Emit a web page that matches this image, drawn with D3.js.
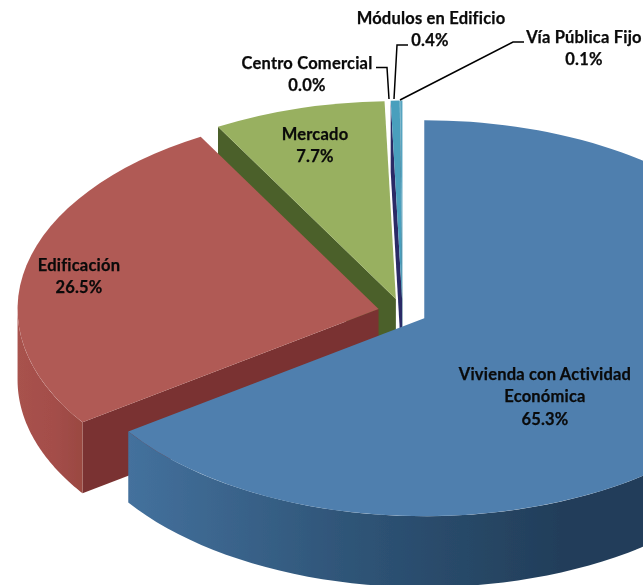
<!DOCTYPE html>
<html><head><meta charset="utf-8">
<script src="https://cdn.jsdelivr.net/npm/d3@7/dist/d3.min.js"></script>
<style>html,body{margin:0;padding:0;background:#fff}svg{display:block}
text{font-family:Lato,"Open Sans",sans-serif;font-weight:700;font-size:16.5px;letter-spacing:.2px;fill:#0a0a0a;stroke:#0a0a0a;stroke-width:.25px;text-anchor:middle}</style>
</head><body><svg id="c" width="643" height="585"></svg>
<script>
const categories = ["Vivienda con Actividad Económica","Edificación","Mercado","Centro Comercial","Módulos en Edificio","Vía Pública Fijo"];
const shares = [65.3,26.5,7.7,0.0,0.4,0.1];
const topColors = ["#4f7fae","#b05a55","#98b060","#5b4a8a","#4a9fbd","#56a4c0"];
const cutColors = ["#2b4a6b","#7a3330","#4c6129","#2c2c66","#2c2c66","#3a6f85"];
const sideStops = [["#44719d","#2f5578","#223e5a"],["#a8524d","#a44e4a","#98473f"],["#88a052","#7d944b","#6f8542"],["#444","#444","#444"],["#2f7f98","#2f7f98","#2f7f98"],["#2f7f98","#2f7f98","#2f7f98"]];

const W=643,H=585, cx=402.5, cy=312, rx=361, ry=198, depth=71, explode=0.068, tilt=ry/rx;
const svg=d3.select("#c");
const defs=svg.append("defs");
defs.append("filter").attr("id","soft").append("feGaussianBlur").attr("stdDeviation",0.55);

const arcs=d3.pie().sort(null).value(d=>d).startAngle(0).endAngle(2*Math.PI)(shares);
arcs.forEach((a,i)=>{a.i=i;a.mid=(a.startAngle+a.endAngle)/2;
  a.ox=cx+explode*rx*Math.sin(a.mid); a.oy=cy-explode*ry*Math.cos(a.mid);});
const pt=(a,t,z=0)=>[a.ox+rx*Math.sin(t), a.oy-ry*Math.cos(t)+z];
const arcGen=d3.arc().innerRadius(0).outerRadius(rx);
const line=d3.line();

sideStops.forEach((s,i)=>{
  const g=defs.append("linearGradient").attr("id","side"+i).attr("gradientUnits","userSpaceOnUse");
  const b=arcs[i];
  const xa=i==0?128:(i==1?16:b.ox-rx), xb=i==0?560:(i==1?90:b.ox);
  g.attr("x1",xa).attr("x2",xb).attr("y1",0).attr("y2",0);
  s.forEach((c,k)=>g.append("stop").attr("offset",k/(s.length-1)).attr("stop-color",c));
});

const root=svg.append("g").attr("filter","url(#soft)");
// paint from the back of the pie to the front
const order=[5,4,3,2,1,0];
order.forEach(i=>{
  const a=arcs[i]; if(a.endAngle-a.startAngle<=0) return;
  const g=root.append("g");
  // cut face(s) visible from the front
  [a.startAngle,a.endAngle].forEach((t,k)=>{
    const visible=(k==0&&t>Math.PI)||(k==1&&t<Math.PI&&t>0);
    if(!visible) return;
    const p=pt(a,t);
    g.append("path").attr("fill",cutColors[i])
      .attr("d",line([[a.ox,a.oy],p,[p[0],p[1]+depth],[a.ox,a.oy+depth]])+"Z");
  });
  // curved outer wall, front half only
  const t0=Math.max(a.startAngle,Math.PI/2), t1=Math.min(a.endAngle,Math.PI*1.5);
  if(t1>t0){
    const ts=d3.range(0,61).map(k=>t0+(t1-t0)*k/60);
    const up=ts.map(t=>pt(a,t)), dn=ts.map(t=>pt(a,t,depth)).reverse();
    g.append("path").attr("fill",`url(#side${i})`).attr("d",line(up.concat(dn))+"Z");
  }
  // top surface
  g.append("path").attr("fill",topColors[i])
    .attr("transform",`translate(${a.ox},${a.oy}) scale(1,${tilt})`)
    .attr("d",arcGen(a));
});

// leader lines
const leaders=[
  {i:3,pts:[[376,67.5],[387,67.5],[389,99]]},
  {i:4,pts:[[408,45],[397,45],[394,99]]},
  {i:5,pts:[[524,42],[513,42],[400,100]]}];
svg.append("g").selectAll("path").data(leaders).join("path")
  .attr("d",d=>line(d.pts)).attr("fill","none").attr("stroke","#000").attr("stroke-width",1.5);

// labels
const labelLines=[
  [[545,380,"Vivienda con Actividad"],[545,402,"Económica"],[545,425,"65.3%"]],
  [[79,271,"Edificación"],[79,293,"26.5%"]],
  [[315,140,"Mercado"],[315,162,"7.7%"]],
  [[307,69,"Centro Comercial"],[307,91,"0.0%"]],
  [[431,24,"Módulos en Edificio"],[430,46,"0.4%"]],
  [[584,43,"Vía Pública Fijo"],[584,65,"0.1%"]]];
svg.append("g").selectAll("text").data(labelLines.flat()).join("text")
  .attr("x",d=>d[0]).attr("y",d=>d[1]).text(d=>d[2]);
</script></body></html>
